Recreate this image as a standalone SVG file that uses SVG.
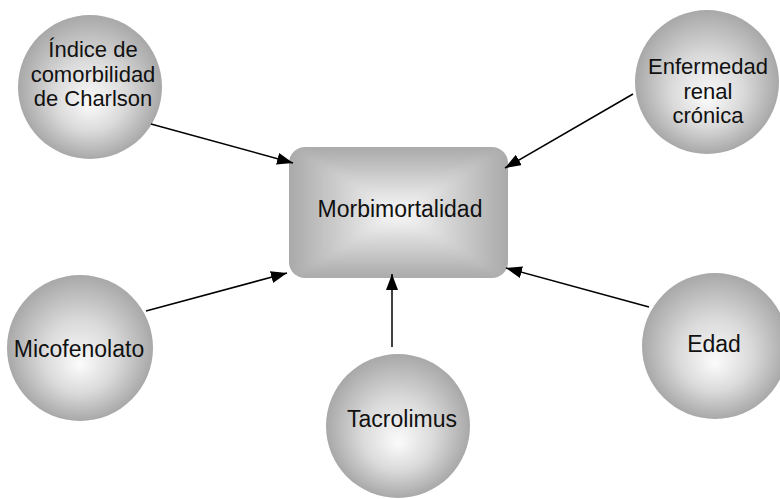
<svg xmlns="http://www.w3.org/2000/svg" width="780" height="499" viewBox="0 0 780 499">
  <defs>
    <radialGradient id="ball" cx="50%" cy="50%" r="50%" fx="50%" fy="62%">
      <stop offset="0" stop-color="#fbfbfb"/>
      <stop offset="0.5" stop-color="#dadada"/>
      <stop offset="1" stop-color="#a8a8a8"/>
    </radialGradient>
    <linearGradient id="gTop" gradientUnits="userSpaceOnUse" x1="0" y1="147" x2="0" y2="212.5">
      <stop offset="0" stop-color="#a9a9a9"/>
      <stop offset="1" stop-color="#fafafa"/>
    </linearGradient>
    <linearGradient id="gBot" gradientUnits="userSpaceOnUse" x1="0" y1="278" x2="0" y2="212.5">
      <stop offset="0" stop-color="#a9a9a9"/>
      <stop offset="1" stop-color="#fafafa"/>
    </linearGradient>
    <linearGradient id="gLeft" gradientUnits="userSpaceOnUse" x1="289" y1="0" x2="398.5" y2="0">
      <stop offset="0" stop-color="#a9a9a9"/>
      <stop offset="1" stop-color="#fafafa"/>
    </linearGradient>
    <linearGradient id="gRight" gradientUnits="userSpaceOnUse" x1="508" y1="0" x2="398.5" y2="0">
      <stop offset="0" stop-color="#a9a9a9"/>
      <stop offset="1" stop-color="#fafafa"/>
    </linearGradient>
    <clipPath id="rectClip">
      <rect x="289" y="147" width="219" height="131" rx="16" ry="16"/>
    </clipPath>
    <filter id="soft" x="270" y="130" width="260" height="170" filterUnits="userSpaceOnUse">
      <feGaussianBlur stdDeviation="5"/>
    </filter>
    <marker id="arrow" viewBox="0 0 16 12" refX="16" refY="6" markerWidth="16" markerHeight="12" markerUnits="userSpaceOnUse" orient="auto">
      <path d="M0,0 L16,6 L0,12 Z" fill="#000"/>
    </marker>
  </defs>
  <style>
    .ball { fill: url(#ball); }
    .lbl { font-family: "Liberation Sans", Arial, Helvetica, sans-serif; font-size: 23px; fill: #111; text-anchor: middle; }
    .ml { font-size: 22px; }
    .edge { stroke: #000; stroke-width: 1.5; fill: none; marker-end: url(#arrow); }
  </style>

  <g id="node-morbimortalidad">
    <g clip-path="url(#rectClip)">
      <g filter="url(#soft)">
        <polygon points="274,132 523,132 398.5,212.5" fill="url(#gTop)"/>
        <polygon points="274,293 523,293 398.5,212.5" fill="url(#gBot)"/>
        <polygon points="274,132 274,293 398.5,212.5" fill="url(#gLeft)"/>
        <polygon points="523,132 523,293 398.5,212.5" fill="url(#gRight)"/>
      </g>
    </g>
    <text class="lbl" x="400" y="217">Morbimortalidad</text>
  </g>

  <g id="node-charlson">
    <circle class="ball" cx="90" cy="87" r="72"/>
    <text class="lbl ml" x="93" y="57">Índice de</text>
    <text class="lbl ml" x="93" y="81.5">comorbilidad</text>
    <text class="lbl ml" x="93" y="106">de Charlson</text>
  </g>

  <g id="node-enfermedad">
    <circle class="ball" cx="707" cy="82" r="72"/>
    <text class="lbl ml" x="708" y="74">Enfermedad</text>
    <text class="lbl ml" x="708" y="98.5">renal</text>
    <text class="lbl ml" x="708" y="123">crónica</text>
  </g>

  <g id="node-micofenolato">
    <circle class="ball" cx="80" cy="348" r="73"/>
    <text class="lbl" x="79" y="357">Micofenolato</text>
  </g>

  <g id="node-tacrolimus">
    <circle class="ball" cx="398" cy="426" r="72"/>
    <text class="lbl" x="402" y="427">Tacrolimus</text>
  </g>

  <g id="node-edad">
    <circle class="ball" cx="715" cy="346" r="73"/>
    <text class="lbl" x="714" y="352">Edad</text>
  </g>

  <g id="connectors">
    <line class="edge" x1="151" y1="124" x2="293" y2="163"/>
    <line class="edge" x1="633" y1="94" x2="505" y2="168"/>
    <line class="edge" x1="146" y1="311" x2="287" y2="273"/>
    <line class="edge" x1="392" y1="347" x2="392" y2="274"/>
    <line class="edge" x1="649" y1="307" x2="506" y2="268"/>
  </g>
</svg>
